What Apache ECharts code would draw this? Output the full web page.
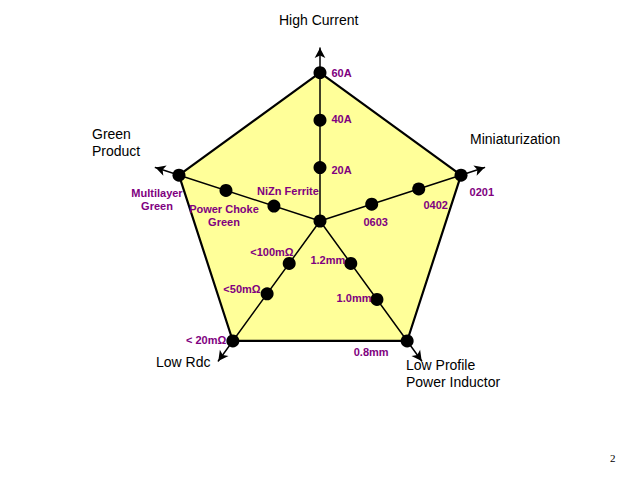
<!DOCTYPE html>
<html><head><meta charset="utf-8">
<script src="https://cdn.jsdelivr.net/npm/echarts@6/dist/echarts.min.js"></script>
<style>html,body{margin:0;padding:0;background:#fff}#c{width:640px;height:480px}</style>
</head><body><div id="c"></div>
<script>
// Axes in counter-clockwise order starting from the top
const axisNames = ['High Current', 'Green Product', 'Low Rdc', 'Low Profile\nPower Inductor', 'Miniaturization'];
const axisMax = 3.5;
const outline = [3, 3, 3, 3, 3];
// Levels on each axis (same order as axisNames)
const highCurrentValues = [1.08, 2.04, 3];
const highCurrentLabels = ['20A', '40A', '60A'];
const greenValues = [0.98, 2.0, 3];
const greenLabels = ['NiZn Ferrite', 'Power Choke\nGreen', 'Multilayer\nGreen'];
const lowRdcValues = [1.06, 1.82, 3];
const lowRdcLabels = ['<100mΩ', '<50mΩ', '< 20mΩ'];
const lowProfileValues = [1.06, 1.96, 3];
const lowProfileLabels = ['1.2mm', '1.0mm', '0.8mm'];
const miniValues = [1.1, 2.1, 3];
const miniLabels = ['0603', '0402', '0201'];
const originValue = 0;

// label placement styles (kept separate from data)
const labelStyles = [
  [{position:'right',offset:[0,2]},{position:'right',offset:[0,-1]},{position:'right',offset:[0,0]}],
  [{position:'top',offset:[14,3]},{position:'bottom',offset:[-2,1]},{position:'bottom',offset:[-22,0]}],
  [{position:'left',offset:[16,-11]},{position:'left',offset:[5,-5]},{position:'left',offset:[5,-1]}],
  [{position:'left',offset:[6,-3]},{position:'left',offset:[6,-1]},{position:'bottom',offset:[-36,-7]}],
  [{position:'bottom',offset:[4,0]},{position:'bottom',offset:[17,-2]},{position:'right',offset:[-3,17]}]
];

const valueSets = [highCurrentValues, greenValues, lowRdcValues, lowProfileValues, miniValues];
const labelSets = [highCurrentLabels, greenLabels, lowRdcLabels, lowProfileLabels, miniLabels];

const purple = '#800080';
const points = [{value: [originValue, 0], label: {show: false}}];
valueSets.forEach((vals, ai) => {
  vals.forEach((v, li) => {
    points.push({
      value: [v, ai],
      label: Object.assign({show: true, formatter: labelSets[ai][li]}, labelStyles[ai][li])
    });
  });
});

const center = [320, 221];
const radius = 173;
const nameFont = {fontFamily: 'Liberation Sans, Arial, sans-serif', fontSize: 14, fill: '#000'};

const chart = echarts.init(document.getElementById('c'), null, {renderer: 'svg'});
chart.setOption({
  backgroundColor: '#fff',
  animation: false,
  radar: {
    z: 3,
    center: center,
    radius: radius,
    startAngle: 90,
    shape: 'polygon',
    splitNumber: 7,
    indicator: axisNames.map(n => ({name: n, max: axisMax, min: 0})),
    axisName: {show: false},
    axisLine: {show: true, symbol: ['none', 'arrow'], symbolSize: [8, 10], lineStyle: {color: '#000', width: 1.5, opacity: 1}},
    splitLine: {show: false},
    splitArea: {show: false},
    axisTick: {show: false},
    axisLabel: {show: false}
  },
  polar: {center: center, radius: radius},
  angleAxis: {type: 'value', min: 0, max: 5, startAngle: 90, clockwise: false, show: false},
  radiusAxis: {type: 'value', min: 0, max: axisMax, show: false},
  series: [
    {
      type: 'radar',
      z: 1,
      symbol: 'none',
      silent: true,
      data: [{value: outline}],
      lineStyle: {width: 0, opacity: 0},
      areaStyle: {color: '#FFFF99', opacity: 1}
    },
    {
      type: 'radar',
      z: 4,
      symbol: 'none',
      silent: true,
      data: [{value: outline}],
      lineStyle: {color: '#000', width: 2.2, opacity: 1}
    },
    {
      type: 'scatter',
      coordinateSystem: 'polar',
      z: 5,
      symbol: 'circle',
      symbolSize: 13,
      itemStyle: {color: '#000', opacity: 1},
      label: {
        color: purple,
        fontFamily: 'Liberation Sans, Arial, sans-serif',
        fontWeight: 'bold',
        fontSize: 11,
        lineHeight: 13
      },
      data: points
    }
  ],
  graphic: [
    {type: 'text', left: 279, top: 13, style: Object.assign({text: 'High Current'}, nameFont)},
    {type: 'text', left: 470, top: 132, style: Object.assign({text: 'Miniaturization'}, nameFont)},
    {type: 'text', left: 406, top: 356, style: Object.assign({text: 'Low Profile\nPower Inductor', lineHeight: 17}, nameFont)},
    {type: 'text', left: 156, top: 355, style: Object.assign({text: 'Low Rdc'}, nameFont)},
    {type: 'text', left: 92, top: 125, style: Object.assign({text: 'Green\nProduct', lineHeight: 17}, nameFont)},
    {type: 'text', left: 610, top: 452, style: {text: '2', fontFamily: 'Liberation Serif, Times New Roman, serif', fontSize: 11, fill: '#000'}}
  ]
});
</script>
</body></html>
